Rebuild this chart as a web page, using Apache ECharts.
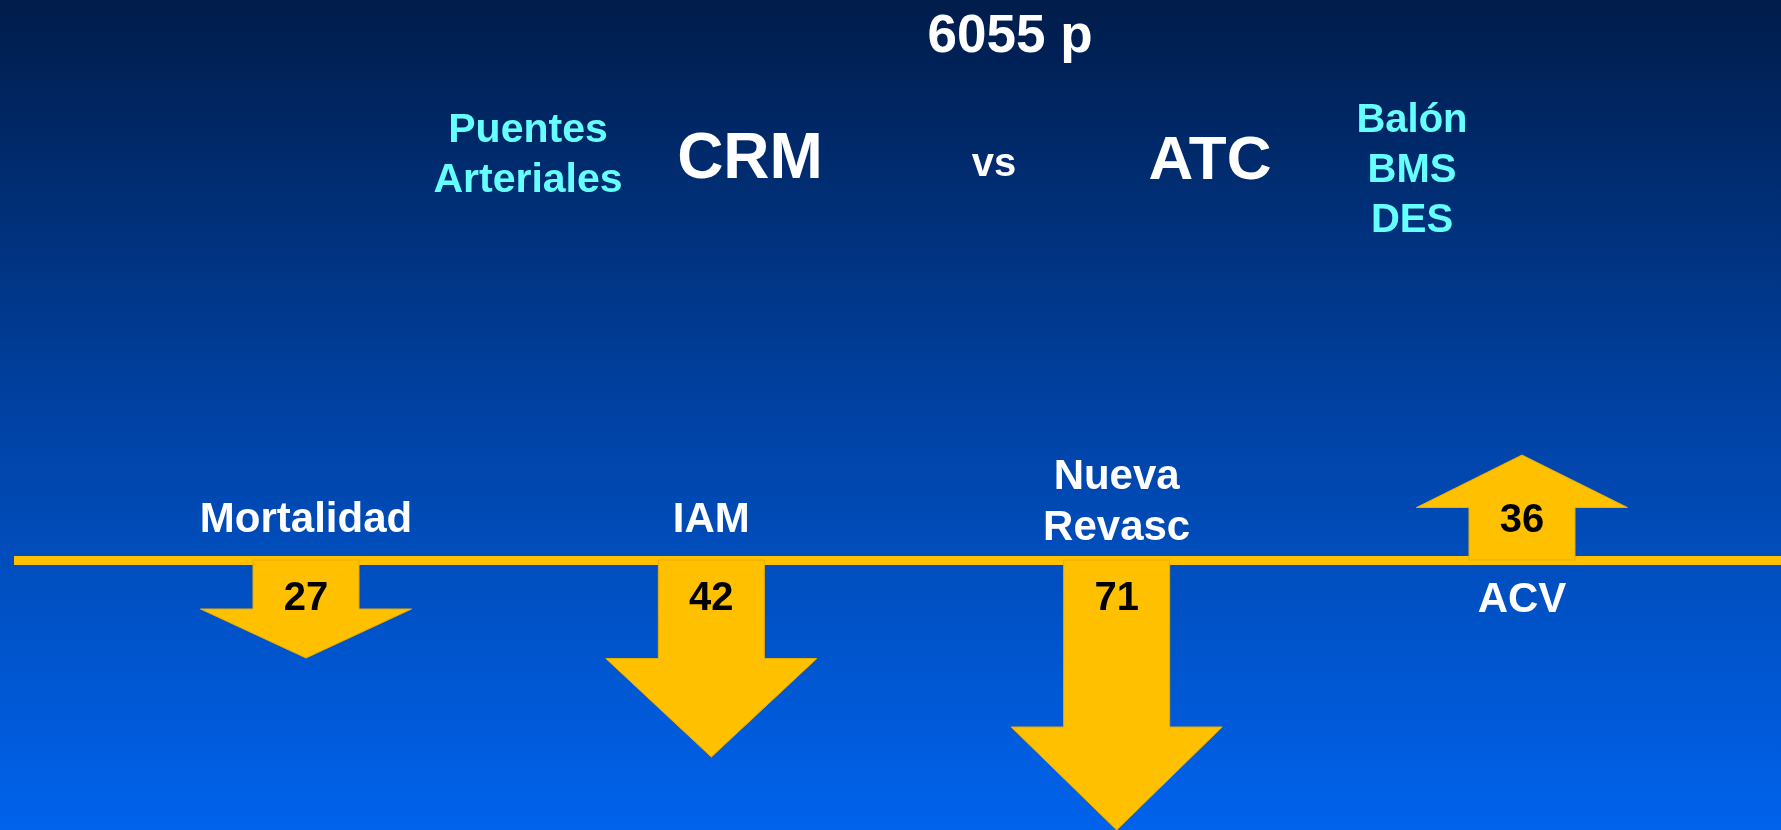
<!DOCTYPE html>
<html>
<head>
<meta charset="utf-8">
<title>CRM vs ATC</title>
<script src="https://cdn.jsdelivr.net/npm/echarts@6/dist/echarts.min.js"></script>
<style>
html, body { margin: 0; padding: 0; }
#main { width: 1781px; height: 830px; }
</style>
</head>
<body>
<div id="main"></div>
<script>
// resultados (CRM vs ATC)
var categorias = ['Mortalidad', 'IAM', 'Nueva\nRevasc', 'ACV'];
var valores = [27, 42, 71, 36];
var alcance = [-9.8, -19.7, -27, 10.5];

var fuente = 'Liberation Sans, Arial, sans-serif';
var naranja = '#FFC000';

function initchart(id) {
	var datos = [];
	for (var i = 0; i < valores.length; i++) {
		datos.push([i, alcance[i], valores[i]]);
	}

	option = {
		animation: false,
		backgroundColor: {
			type: 'linear', x: 0, y: 0, x2: 0, y2: 1,
			colorStops: [
				{offset: 0, color: '#001c4a'},
				{offset: 0.5, color: '#0042a4'},
				{offset: 1, color: '#0063ec'}
			]
		},
		grid: {left: 14, right: 0, top: 0, bottom: 0},
		xAxis: {
			type: 'value',
			min: -0.7204,
			max: 3.639,
			axisLine: {show: true, onZero: true, lineStyle: {color: naranja, width: 9, cap: 'butt'}},
			axisTick: {show: false},
			axisLabel: {show: false},
			splitLine: {show: false}
		},
		yAxis: {
			type: 'value',
			min: -27,
			max: 56,
			axisLine: {show: false},
			axisTick: {show: false},
			axisLabel: {show: false},
			splitLine: {show: false}
		},
		graphic: [
			{type: 'text', x: 1010, y: 37, style: {text: '6055 p', fill: '#fff', font: 'bold 53px ' + fuente, align: 'center', verticalAlign: 'middle'}},
			{type: 'text', x: 528, y: 156, style: {text: 'Puentes\nArteriales', fill: '#66FFFF', font: 'bold 41px ' + fuente, lineHeight: 50, align: 'center', verticalAlign: 'middle'}},
			{type: 'text', x: 750, y: 160, style: {text: 'CRM', fill: '#fff', font: 'bold 64px ' + fuente, align: 'center', verticalAlign: 'middle'}},
			{type: 'text', x: 994, y: 165, style: {text: 'vs', fill: '#fff', font: 'bold 40px ' + fuente, align: 'center', verticalAlign: 'middle'}},
			{type: 'text', x: 1210, y: 162, style: {text: 'ATC', fill: '#fff', font: 'bold 62px ' + fuente, align: 'center', verticalAlign: 'middle'}},
			{type: 'text', x: 1412, y: 171, style: {text: 'Balón\nBMS\nDES', fill: '#66FFFF', font: 'bold 40px ' + fuente, lineHeight: 50, align: 'center', verticalAlign: 'middle'}}
		],
		series: [{
			type: 'custom',
			data: datos,
			renderItem: function (params, api) {
				var base = api.coord([api.value(0), 0]);
				var tip = api.coord([api.value(0), api.value(1)]);
				var dir = tip[1] > base[1] ? 1 : -1;
				var len = Math.abs(tip[1] - base[1]);
				var cabeza = Math.min(len * 0.5, 103);
				var sw = 53, hw = 105.5;
				var x = base[0], y0 = base[1];
				var yh = tip[1] - dir * cabeza;
				var nombre = categorias[params.dataIndex];
				var lineas = nombre.split('\n').length;
				var lh = 51;
				// nombre al lado opuesto de la flecha
				var yNombre = dir > 0 ? y0 - 40 - (lineas - 1) * (lh / 2 - 8) : y0 + 40;
				return {
					type: 'group',
					children: [
						{
							type: 'polygon',
							shape: {points: [[x - sw, y0], [x + sw, y0], [x + sw, yh], [x + hw, yh], [x, tip[1]], [x - hw, yh], [x - sw, yh]]},
							style: {fill: naranja, stroke: '#E8AE00', lineWidth: 1}
						},
						{
							type: 'text',
							x: x,
							y: y0 + dir * 39,
							style: {text: String(api.value(2)), fill: '#000', font: 'bold 40px ' + fuente, align: 'center', verticalAlign: 'middle'}
						},
						{
							type: 'text',
							x: x,
							y: yNombre,
							style: {text: nombre, fill: '#fff', font: 'bold 42px ' + fuente, lineHeight: lh, align: 'center', verticalAlign: 'middle'}
						}
					]
				};
			}
		}]
	};
	var myChart = echarts.init(document.getElementById(id));
	myChart.setOption(option);
	return myChart;
}

initchart('main');
</script>
</body>
</html>
